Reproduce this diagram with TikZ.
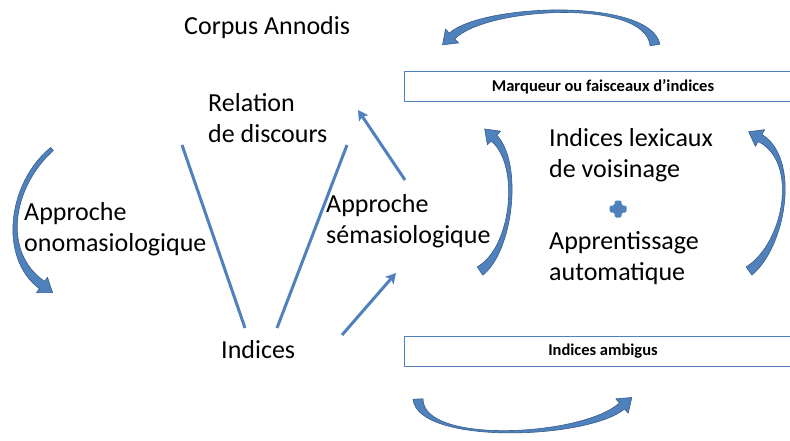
\documentclass[tikz,border=0pt]{standalone}
\usepackage{fontspec}
\setmainfont{Carlito}
\usetikzlibrary{arrows.meta, calc}
\definecolor{office}{HTML}{4F81BD}
\definecolor{officedark}{HTML}{385D8A}

% curved block arrow: #1-#4 centre line, #5 tail width, #6 middle width, #7 width before the head
\newcommand{\headw}{9.5pt}
\newcommand{\headl}{13pt}
\newcommand{\bentarrow}[7]{%
  \path (#1) coordinate (ba0) (#2) coordinate (ba1) (#3) coordinate (ba2) (#4) coordinate (ba3);
  \fill[bentfill] ($(ba0)!#5pt/2!90:(ba1)$)
      .. controls ($(ba1)!#6pt/2!-90:(ba0)$) and ($(ba2)!#6pt/2!90:(ba3)$) .. ($(ba3)!#7pt/2!-90:(ba2)$)
      -- ($(ba3)!\headw!-90:(ba2)$) -- ($(ba3)!-\headl!(ba2)$) -- ($(ba3)!\headw!90:(ba2)$)
      -- ($(ba3)!#7pt/2!90:(ba2)$)
      .. controls ($(ba2)!#6pt/2!-90:(ba3)$) and ($(ba1)!#6pt/2!90:(ba0)$) .. ($(ba0)!#5pt/2!-90:(ba1)$)
      -- cycle;
}

\begin{document}
\begin{tikzpicture}[
    x=1pt, y=-1pt,
    txt/.style={inner sep=0pt, align=left, anchor=west, font=\fontsize{26}{30.5}\selectfont},
    marker/.style={draw=office, line width=1pt, minimum width=398pt, minimum height=30pt, font=\fontsize{16.5}{19}\selectfont\bfseries},
    link/.style={draw=office, line width=3pt},
    bentfill/.style={fill=office, draw=officedark, line width=0.6pt, line join=round},
    >={Stealth[length=10pt, width=11pt, inset=2pt]}
]
\useasboundingbox (0,0) rectangle (790,441);

\node[txt] (corpus) at (184,28) {Corpus Annodis};
\node[txt] (relation) at (208,118) {Relation\\de discours};
\node[txt] (onoma) at (24,229) {Approche\\onomasiologique};
\node[txt] (sema) at (326,221) {Approche\\sémasiologique};
\node[txt] (indices) at (221,350) {Indices};
\node[txt] (lexic) at (549,155) {Indices lexicaux\\de voisinage};
\node[txt] (appr) at (549,258) {Apprentissage\\automatique};

\node[marker] (marq) at (603,87) {Marqueur ou faisceaux d’indices};
\node[marker] (ambig) at (603,351) {Indices ambigus};

% plus sign
\fill[office, rounded corners=1.5pt, shift={(618,209)}]
  (-3.5,-8.5) -- (3.5,-8.5) -- (3.5,-3.5) -- (8.5,-3.5) -- (8.5,3.5) -- (3.5,3.5)
  -- (3.5,8.5) -- (-3.5,8.5) -- (-3.5,3.5) -- (-8.5,3.5) -- (-8.5,-3.5) -- (-3.5,-3.5) -- cycle;

% straight links
\coordinate (relL) at (182,145);
\coordinate (relR) at (347,145);
\coordinate (indL) at (245,328);
\coordinate (indR) at (277,328);
\coordinate (semaT) at (405,180);
\coordinate (relA) at (358,110);
\coordinate (indA) at (342,335);
\coordinate (semaB) at (396,273);

\draw[link] (relL) -- (indL);
\draw[link] (relR) -- (indR);
\draw[link, ->] (semaT) -- (relA);
\draw[link, ->] (indA) -- (semaB);

% curved arrows
\bentarrow{52,149}{10,185}{0,255}{42,285}{4}{7}{9}
\bentarrow{480,271}{512,250}{522,165}{494,138}{10}{4}{8}
\bentarrow{749,271}{785,245}{800,160}{760,138}{10}{4}{8}
\bentarrow{655,45}{648,-2}{485,5}{452,36}{10}{5}{8}
\bentarrow{418,399}{420,445}{585,438}{622,406}{10}{5}{8}
\end{tikzpicture}
\end{document}
